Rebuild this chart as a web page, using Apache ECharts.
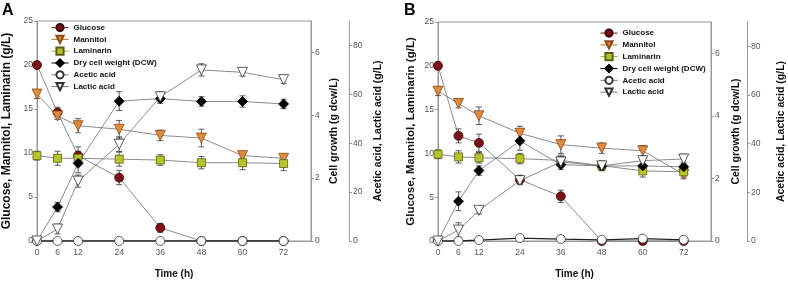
<!DOCTYPE html>
<html>
<head>
<meta charset="utf-8">
<script src="https://cdn.jsdelivr.net/npm/echarts@6/dist/echarts.min.js"></script>
<style>html,body{margin:0;padding:0;background:#fff}#c{width:788px;height:284px}</style>
</head>
<body>
<div id="c"></div>
<script>
// ---- data ----
const time = [0, 6, 12, 24, 36, 48, 60, 72];
const xTicks = [0, 6, 12, 24, 36, 48, 60, 72];
const leftTicks = [0, 5, 10, 15, 20, 25];
const cellTicks = [0, 2, 4, 6];
const acidTicks = [0, 20, 40, 60, 80];

// Panel A
const glucoseA = [20.0, 14.6, 9.7, 7.2, 1.5, 0, 0, 0];
const glucoseAErr = [0.4, 0.6, 1.0, 0.8, 0.5, 0, 0, 0];
const mannitolA = [16.7, 14.2, 13.1, 12.7, 12.0, 11.7, 9.7, 9.4];
const mannitolAErr = [0.5, 0.4, 0.8, 1.0, 0.6, 1.0, 0.3, 0.3];
const laminarinA = [9.7, 9.4, 9.4, 9.3, 9.2, 8.9, 8.9, 8.8];
const laminarinAErr = [0.5, 0.8, 0.8, 0.8, 0.6, 0.7, 0.8, 0.8];
const dcwA = [0, 1.08, 2.47, 4.45, 4.53, 4.44, 4.44, 4.36];
const dcwAErr = [0, 0.15, 0.3, 0.3, 0.15, 0.15, 0.18, 0.15];
const aceticA = [0, 0, 0, 0, 0, 0, 0, 0];
const aceticAErr = [0, 0, 0, 0, 0, 0, 0, 0];
const lacticA = [0, 4.9, 24.5, 39.6, 59.0, 70.0, 69.0, 66.0];
const lacticAErr = [0, 2.0, 2.5, 3.0, 2.0, 2.5, 1.5, 1.5];

// Panel B
const glucoseB = [20.0, 12.0, 11.2, 7.0, 5.1, 0, 0, 0];
const glucoseBErr = [0.4, 0.8, 1.0, 0.5, 0.7, 0, 0, 0];
const mannitolB = [17.1, 15.7, 14.3, 12.3, 11.0, 10.6, 10.3, 7.6];
const mannitolBErr = [0.5, 0.5, 1.0, 0.8, 1.0, 0.6, 0.6, 0.5];
const laminarinB = [9.9, 9.6, 9.5, 9.4, 9.2, 8.6, 8.0, 7.9];
const laminarinBErr = [0.5, 0.7, 0.6, 0.6, 0.6, 0.5, 0.7, 0.6];
const dcwB = [0, 1.27, 2.25, 3.2, 2.44, 2.4, 2.4, 2.37];
const dcwBErr = [0, 0.3, 0.15, 0.3, 0.15, 0.15, 0.15, 0.15];
const aceticB = [0, 0, 0.4, 1.2, 0.8, 0.5, 1.0, 0.5];
const aceticBErr = [0, 0, 0, 0, 0, 0, 0, 0];
const lacticB = [0, 4.5, 12.6, 24.8, 32.5, 30.9, 33.0, 33.7];
const lacticBErr = [0, 3.0, 1.5, 1.5, 2.0, 2.0, 2.0, 2.0];

const names = ['Glucose', 'Mannitol', 'Laminarin', 'Dry cell weight (DCW)', 'Acetic acid', 'Lactic acid'];

// ---- styles ----
const FONT = '"Liberation Sans", Arial, sans-serif';
const styles = [
  { symbol: 'circle', size: 9, rot: 0, fill: '#7b1217', border: '#3a0508', legendLine: '#7b1217', axis: 0 },
  { symbol: 'triangle', size: 10, rot: 180, fill: '#e08a3c', border: '#8a4a1a', legendLine: '#c0702a', axis: 0 },
  { symbol: 'rect', size: 8, rot: 0, fill: '#b8c42c', border: '#5a6010', legendLine: '#9aa820', axis: 0 },
  { symbol: 'diamond', size: 10, rot: 0, fill: '#000000', border: '#000000', legendLine: '#000000', axis: 1 },
  { symbol: 'circle', size: 9, rot: 0, fill: '#ffffff', border: '#333333', legendLine: '#777777', axis: 2 },
  { symbol: 'triangle', size: 10, rot: 180, fill: '#ffffff', border: '#333333', legendLine: '#777777', axis: 2 }
];

function errData(v, e) {
  const out = [];
  time.forEach((t, i) => { if (e[i] > 0) out.push([t, v[i] - e[i], v[i] + e[i]]); });
  return out;
}

function renderErr(params, api) {
  const x = api.value(0), lo = api.value(1), hi = api.value(2);
  const p1 = api.coord([x, lo]), p2 = api.coord([x, hi]);
  const w = 3;
  const st = { stroke: '#333', lineWidth: 0.8 };
  return {
    type: 'group', children: [
      { type: 'line', shape: { x1: p1[0], y1: p1[1], x2: p2[0], y2: p2[1] }, style: st },
      { type: 'line', shape: { x1: p1[0] - w, y1: p1[1], x2: p1[0] + w, y2: p1[1] }, style: st },
      { type: 'line', shape: { x1: p2[0] - w, y1: p2[1], x2: p2[0] + w, y2: p2[1] }, style: st }
    ]
  };
}

const grids = [
  { left: 36, top: 21, width: 275, height: 221, show: true, borderColor: '#999', borderWidth: 1, backgroundColor: 'transparent' },
  { left: 438, top: 22, width: 277, height: 221, show: true, borderColor: '#999', borderWidth: 1, backgroundColor: 'transparent' }
];

const xAxes = [0, 1].map(g => ({
  type: 'value', gridIndex: g, min: 0, max: 80, interval: 4,
  axisLine: { show: true, lineStyle: { color: '#999', width: 1 } },
  axisTick: { show: false },
  splitLine: { show: false },
  axisLabel: { customValues: xTicks, fontSize: 8.5, color: '#555', fontFamily: FONT, margin: 7 },
  name: 'Time (h)', nameLocation: 'middle', nameGap: 28,
  nameTextStyle: { fontSize: 10, fontWeight: 'bold', color: '#111', fontFamily: FONT }
}));

function yAxesFor(g, leftName, lfs, cellGap, acidOff, acidGap, leftGap) {
  const common = {
    gridIndex: g, type: 'value', splitLine: { show: false },
    axisLine: { show: true, lineStyle: { color: '#999', width: 1 } },
    axisTick: { show: true, length: 3, lineStyle: { color: '#999' } },
    nameLocation: 'middle',
    nameTextStyle: { fontWeight: 'bold', color: '#111', fontFamily: FONT }
  };
  return [
    Object.assign({}, common, {
      position: 'left', min: 0, max: 25, interval: 5,
      axisLabel: { fontSize: 8.5, color: '#555', fontFamily: FONT, margin: 4, customValues: leftTicks },
      axisTick: { show: true, length: 3, lineStyle: { color: '#999' }, customValues: leftTicks },
      name: leftName, nameGap: leftGap,
      nameTextStyle: Object.assign({}, common.nameTextStyle, { fontSize: lfs })
    }),
    Object.assign({}, common, {
      position: 'right', min: 0, max: 7, interval: 1,
      axisLabel: { fontSize: 8.5, color: '#555', fontFamily: FONT, margin: 4, customValues: cellTicks },
      axisTick: { show: true, length: 3, lineStyle: { color: '#999' }, customValues: cellTicks },
      name: 'Cell growth (g dcw/L)', nameGap: cellGap, nameRotate: 90,
      nameTextStyle: Object.assign({}, common.nameTextStyle, { fontSize: 10.5 })
    }),
    Object.assign({}, common, {
      position: 'right', offset: acidOff, min: 0, max: 90, interval: 10,
      axisLabel: { fontSize: 8.5, color: '#555', fontFamily: FONT, margin: 4, customValues: acidTicks },
      axisTick: { show: true, length: 3, lineStyle: { color: '#999' }, customValues: acidTicks },
      name: 'Acetic acid, Lactic acid (g/L)', nameGap: acidGap, nameRotate: 90,
      nameTextStyle: Object.assign({}, common.nameTextStyle, { fontSize: 10.5 })
    })
  ];
}

const yAxes = [].concat(
  yAxesFor(0, 'Glucose, Mannitol, Laminarin (g/L)', 12, 18, 38, 24, 24),
  yAxesFor(1, 'Glucose, Mannitol, Laminarin (g/L)', 11.5, 20, 36, 29, 21)
);

const panels = [
  { vals: [glucoseA, mannitolA, laminarinA, dcwA, aceticA, lacticA],
    errs: [glucoseAErr, mannitolAErr, laminarinAErr, dcwAErr, aceticAErr, lacticAErr] },
  { vals: [glucoseB, mannitolB, laminarinB, dcwB, aceticB, lacticB],
    errs: [glucoseBErr, mannitolBErr, laminarinBErr, dcwBErr, aceticBErr, lacticBErr] }
];

const series = [];
panels.forEach((p, g) => {
  p.vals.forEach((v, k) => {
    const s = styles[k];
    const yi = g * 3 + s.axis;
    const ed = errData(v, p.errs[k]);
    if (ed.length) {
      series.push({
        type: 'custom', xAxisIndex: g, yAxisIndex: yi, renderItem: renderErr,
        data: ed, encode: { x: 0, y: [1, 2] }, z: 1, silent: true
      });
    }
    series.push({
      type: 'line', name: names[k], xAxisIndex: g, yAxisIndex: yi,
      data: time.map((t, i) => [t, v[i]]),
      symbol: s.symbol, symbolSize: s.size, symbolRotate: s.rot, showAllSymbol: true,
      lineStyle: { color: k === 4 ? '#222' : '#6f6f6f', width: k === 4 ? 1.3 : 0.8 },
      itemStyle: { color: s.fill, borderColor: s.border, borderWidth: 0.8 },
      z: 3 + k * 0.1, animation: false
    });
  });
});

function legendFor(left, top) {
  return {
    orient: 'vertical', left: left, top: top, itemWidth: 17, itemHeight: 9, itemGap: 2.6,
    padding: 0, selectedMode: false,
    textStyle: { fontSize: 8, fontWeight: 'bold', color: '#111', fontFamily: FONT },
    data: names.map((n, k) => ({
      name: n,
      lineStyle: { color: styles[k].legendLine, width: 1 }
    }))
  };
}

const chart = echarts.init(document.getElementById('c'), null, { renderer: 'canvas' });
chart.setOption({
  animation: false,
  backgroundColor: '#fff',
  grid: grids,
  xAxis: xAxes,
  yAxis: yAxes,
  legend: [legendFor(51, 23), legendFor(600, 28.5)],
  series: series,
  graphic: [
    { type: 'text', left: 2, top: 3, style: { text: 'A', font: 'bold 16px ' + FONT, fill: '#000' } },
    { type: 'text', left: 404, top: 3, style: { text: 'B', font: 'bold 16px ' + FONT, fill: '#000' } }
  ]
});
</script>
</body>
</html>
